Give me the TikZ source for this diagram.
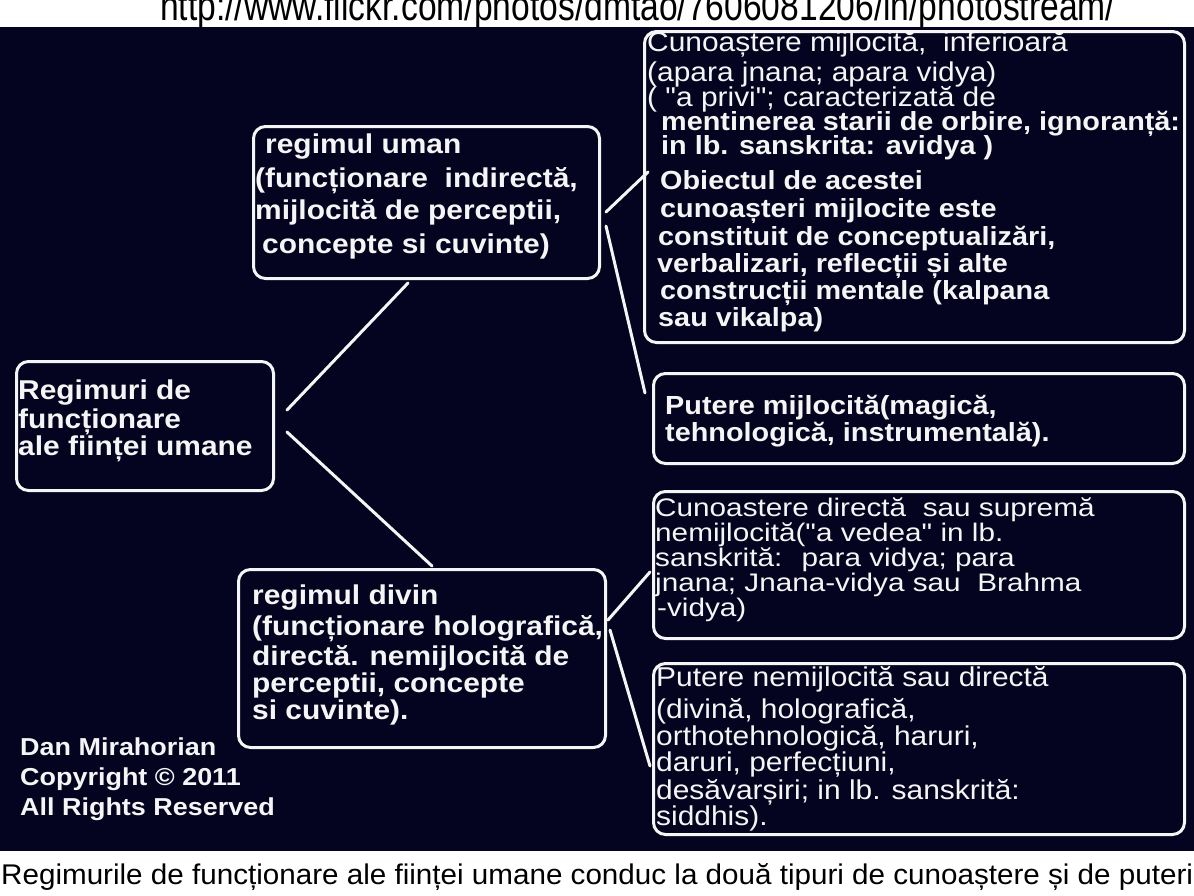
\documentclass[tikz,border=0pt]{standalone}
\usepackage{fontspec}
\usepackage{graphicx}
\setmainfont{Liberation Sans}
\newfontfamily\boxfont[FakeStretch=1.1]{Liberation Sans}
\newfontfamily\wideboxfont[FakeStretch=1.17]{Liberation Sans}
\definecolor{navy}{RGB}{4,4,32}
\definecolor{ink}{RGB}{245,245,245}
\tikzset{
  box/.style={draw=ink, line width=3pt, rounded corners=12pt, anchor=north west, inner sep=0pt},
  lblb/.style={text=ink, anchor=base west, inner sep=0pt, font=\boxfont\bfseries\fontsize{27.2}{28}\selectfont},
  lblbs/.style={text=ink, anchor=base west, inner sep=0pt, font=\boxfont\bfseries\fontsize{26.2}{28}\selectfont},
  lblc/.style={text=ink, anchor=base west, inner sep=0pt, font=\boxfont\bfseries\fontsize{24.5}{28}\selectfont},
  lblr/.style={text=ink, anchor=base west, inner sep=0pt, font=\boxfont\fontsize{27.2}{28}\selectfont},
  lblrs/.style={text=ink, anchor=base west, inner sep=0pt, font=\wideboxfont\fontsize{25.4}{28}\selectfont},
  conn/.style={draw=ink, line width=3pt, line cap=round},
}
\begin{document}
\begin{tikzpicture}[x=1pt,y=-1pt]
\useasboundingbox (0,0) rectangle (1194,895);
\fill[white] (0,0) rectangle (1194,895);
\fill[navy] (0,27) rectangle (1194,851);
% URL at top (cut off)
\begin{scope}
\clip (0,0) rectangle (1194,27);
\node[anchor=base west, inner sep=0pt, text=black] (url) at (160,20)
  {\resizebox{955pt}{30pt}{\fontsize{30}{30}\selectfont http://www.flickr.com/photos/dmtao/7606081206/in/photostream/}};
\end{scope}
% caption
\node[anchor=base west, inner sep=0pt, text=black] (cap) at (1,884)
  {\resizebox{1192pt}{21pt}{\fontsize{25}{25}\selectfont Regimurile de funcționare ale ființei umane conduc la două tipuri de cunoaștere și de puteri}};

% boxes
\node[box, minimum width=540, minimum height=311] (b1) at (643,30) {};
\node[box, minimum width=531, minimum height=90] (b2) at (652,372) {};
\node[box, minimum width=531, minimum height=147] (b3) at (652,490) {};
\node[box, minimum width=531, minimum height=171] (b4) at (652,662) {};
\node[box, minimum width=346, minimum height=152] (b5) at (252,125) {};
\node[box, minimum width=257, minimum height=129] (b6) at (15,360) {};
\node[box, minimum width=367, minimum height=178] (b7) at (237,568) {};

% box 1 text
\foreach \x/\y/\s [count=\i] in {
  {647/51/Cunoaștere mijlocită,~ inferioară},
  {647/81/(apara jnana; apara vidya)},
  {647/106/( "a privi"; caracterizată de}}
  \node[lblr] (b1r\i) at (\x,\y) {\s};
\foreach \x/\y/\s [count=\i] in {
  {661/130/mentinerea starii de orbire, ignoranță:},
  {661/154/in lb. sanskrita: avidya )},
  {660/189/Obiectul de acestei},
  {660/217/cunoașteri mijlocite este},
  {658/245/constituit de conceptualizări,},
  {657/272/verbalizari, reflecții și alte},
  {660/299/construcții mentale (kalpana},
  {658/326/sau vikalpa)}}
  \node[lblbs] (b1b\i) at (\x,\y) {\s};
% box 2 text
\foreach \x/\y/\s [count=\i] in {
  {665/414/Putere mijlocită(magică,},
  {665/441/tehnologică, instrumentală).}}
  \node[lblbs] (b2t\i) at (\x,\y) {\s};
% box 3 text
\foreach \x/\y/\s [count=\i] in {
  {655/516/Cunoastere directă~ sau supremă},
  {655/541/nemijlocită("a vedea" in lb.},
  {655/566/sanskrită:~ para vidya; para},
  {655/591/jnana; Jnana-vidya sau~ Brahma},
  {657/616/-vidya)}}
  \node[lblrs] (b3t\i) at (\x,\y) {\s};
% box 4 text
\foreach \x/\y/\s [count=\i] in {
  {656/686/Putere nemijlocită sau directă},
  {656/718/(divină, holografică,},
  {656/745/orthotehnologică, haruri,},
  {656/771/daruri, perfecțiuni,},
  {656/799/desăvarșiri; in lb. sanskrită:},
  {656/825/siddhis).}}
  \node[lblr] (b4t\i) at (\x,\y) {\s};
% box 5 text
\foreach \x/\y/\s [count=\i] in {
  {265/153/regimul uman},
  {255/187/(funcționare~ indirectă,},
  {255/219/mijlocită de perceptii,},
  {262/253/concepte si cuvinte)}}
  \node[lblb] (b5t\i) at (\x,\y) {\s};
% box 6 text
\foreach \x/\y/\s [count=\i] in {
  {18/399/Regimuri de},
  {18/428/funcționare},
  {18/455/ale ființei umane}}
  \node[lblb] (b6t\i) at (\x,\y) {\s};
% box 7 text
\foreach \x/\y/\s [count=\i] in {
  {252/604/regimul divin},
  {252/635/(funcționare holografică,},
  {252/665/directă. nemijlocită de},
  {252/692/perceptii, concepte},
  {252/719/si cuvinte).}}
  \node[lblb] (b7t\i) at (\x,\y) {\s};
% copyright
\foreach \x/\y/\s [count=\i] in {
  {20/755/Dan Mirahorian},
  {20/785/Copyright © 2011},
  {20/815/All Rights Reserved}}
  \node[lblc] (cr\i) at (\x,\y) {\s};

% connectors
\coordinate (p1) at (287,410);
\coordinate (q1) at (408,283);
\coordinate (p2) at (287,432);
\coordinate (q2) at (432,566);
\coordinate (p3) at (606,212);
\coordinate (q3) at (648,172);
\coordinate (p4) at (606,226);
\coordinate (q4) at (645,393);
\coordinate (p5) at (608,620);
\coordinate (q5) at (650,572);
\coordinate (p6) at (610,630);
\coordinate (q6) at (650,766);
\draw[conn] (p1) -- (q1);
\draw[conn] (p2) -- (q2);
\draw[conn] (p3) -- (q3);
\draw[conn] (p4) -- (q4);
\draw[conn] (p5) -- (q5);
\draw[conn] (p6) -- (q6);
\end{tikzpicture}
\end{document}
